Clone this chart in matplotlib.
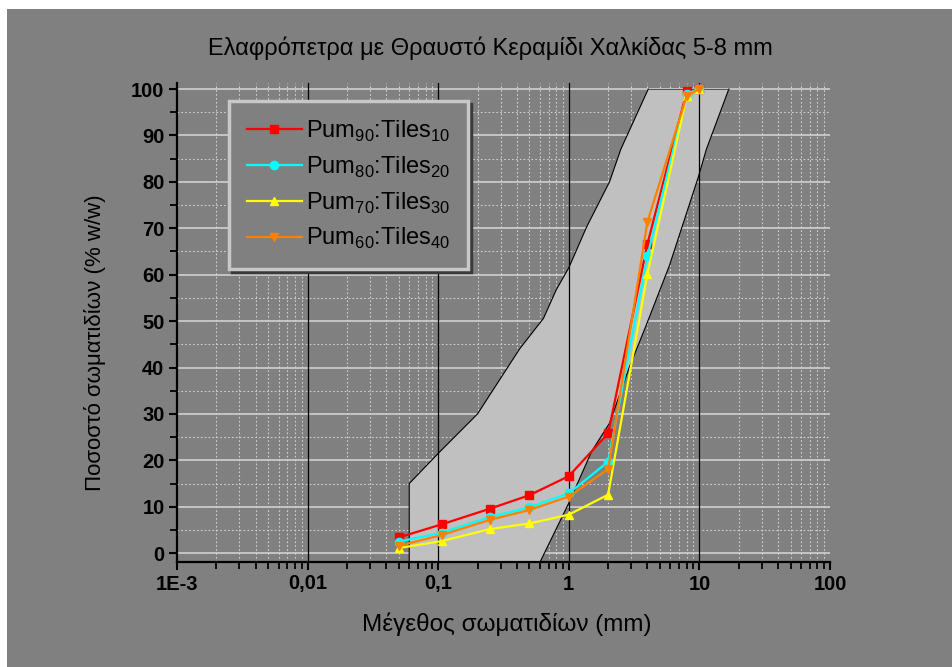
import numpy as np
import matplotlib
matplotlib.use("Agg")
import matplotlib.pyplot as plt
from matplotlib.patches import Rectangle
from matplotlib.ticker import LogLocator, FixedLocator, FixedFormatter, MultipleLocator

plt.rcParams['font.family'] = ['Liberation Sans', 'DejaVu Sans']
plt.rcParams['mathtext.fontset'] = 'custom'
plt.rcParams['mathtext.rm'] = 'Liberation Sans'

# sieve sizes (mm)
sizes = [0.05, 0.106, 0.25, 0.5, 1, 2, 4, 8, 10]

# passing percentages
pum90 = [3.4, 6.2, 9.6, 12.5, 16.6, 25.8, 66.6, 99.5, 100]
pum80 = [2.5, 4.4, 7.8, 9.9, 12.9, 19.7, 64.0, 99.0, 100]
pum70 = [1.1, 2.6, 5.2, 6.4, 8.3, 12.6, 60.2, 98.5, 100]
pum60 = [1.6, 3.9, 7.2, 9.3, 12.2, 18.1, 71.4, 98.5, 100]

# grading envelope (left/upper and right/lower boundaries)
env_left_x = [0.06, 0.06, 0.1, 0.2, 0.42, 0.64, 0.8, 1.0, 1.37, 2.05, 2.5, 4.06]
env_left_y = [-2, 15, 21.5, 30, 44, 50.6, 56.7, 61.5, 70.3, 80, 87, 100]
env_right_x = [16.8, 11.3, 9.8, 5.9, 3.9, 2.9, 2.05, 1.5, 1.0, 0.6]
env_right_y = [100, 87, 81, 62, 49, 40, 28, 22, 10.8, -2]

labels = [r'Pum$_{\mathregular{90}}$:Tiles$_{\mathregular{10}}$',
          r'Pum$_{\mathregular{80}}$:Tiles$_{\mathregular{20}}$',
          r'Pum$_{\mathregular{70}}$:Tiles$_{\mathregular{30}}$',
          r'Pum$_{\mathregular{60}}$:Tiles$_{\mathregular{40}}$']

xticks = [1e-3, 1e-2, 1e-1, 1, 10, 100]
xticklabels = ['1E-3', '0,01', '0,1', '1', '10', '100']

bg = '#808080'
fig = plt.figure(figsize=(9.52, 6.67), dpi=100)
fig.patch.set_facecolor('white')
fig.add_artist(Rectangle((7 / 952, 0), 1, 1 - 9 / 667, transform=fig.transFigure,
                         facecolor=bg, edgecolor='none', zorder=-10))

ax = fig.add_axes([177 / 952, 105 / 667, 653 / 952, 479 / 667])
ax.set_facecolor(bg)
ax.set_xscale('log')
ax.set_xlim(1e-3, 100)
ax.set_ylim(-1.9, 101.3)

# grid
ax.yaxis.set_major_locator(MultipleLocator(10))
ax.yaxis.set_minor_locator(MultipleLocator(5))
ax.xaxis.set_major_locator(FixedLocator(xticks))
ax.xaxis.set_major_formatter(FixedFormatter(xticklabels))
ax.xaxis.set_minor_locator(LogLocator(base=10, subs=np.arange(2, 10), numticks=20))
ax.xaxis.set_minor_formatter(plt.NullFormatter())
ax.grid(axis='y', which='major', color='#d0d0d0', lw=1.2, zorder=0)
ax.grid(axis='y', which='minor', color='#d0d0d0', lw=0.8, ls=(0, (1.5, 2)), zorder=0)
ax.grid(axis='x', which='minor', color='#d0d0d0', lw=0.8, ls=(0, (1.5, 2)), zorder=0)
ax.set_axisbelow(True)

# envelope
ex = env_left_x + env_right_x
ey = env_left_y + env_right_y
ax.fill(ex, ey, facecolor='#c0c0c0', edgecolor='none', zorder=1)
ax.plot(env_left_x, env_left_y, color='black', lw=0.8, zorder=1.5)
ax.plot(env_right_x, env_right_y, color='black', lw=0.8, zorder=1.5)
ax.plot([env_left_x[-1], env_right_x[0]], [100, 100], color='#404040', lw=0.6, zorder=1.5)
for xv in xticks[1:-1]:
    ax.axvline(xv, color='black', lw=0.9, zorder=2)

series = [(pum90, '#ff0000', 's'), (pum80, '#00ffff', 'o'),
          (pum70, '#ffff00', '^'), (pum60, '#ff8000', 'v')]
for (vals, col, mk), lab in zip(series, labels):
    ax.plot(sizes, vals, color=col, marker=mk, ms=6, lw=1.6, label=lab, zorder=3)

for s in ['top', 'right']:
    ax.spines[s].set_visible(False)
for s in ['left', 'bottom']:
    ax.spines[s].set_linewidth(1.6)
ax.tick_params(which='major', direction='out', length=6, width=1.5, labelsize=14.5, pad=3)
ax.tick_params(which='minor', direction='out', length=5, width=1.3)
for t in ax.get_xticklabels() + ax.get_yticklabels():
    t.set_fontweight('bold')

ax.set_xlabel('Μέγεθος σωματιδίων (mm)', fontsize=17.5)
ax.set_ylabel('Ποσοστό σωματιδίων (% w/w)', fontsize=16)
ax.xaxis.set_label_coords(0.505, -0.105)
ax.yaxis.set_label_coords(-0.109, 0.458)
fig.text(490 / 952, 1 - 48 / 667, 'Ελαφρόπετρα με Θραυστό Κεραμίδι Χαλκίδας 5-8 mm',
         fontsize=17, ha='center', va='center')

leg = ax.legend(loc='upper left', bbox_to_anchor=(52 / 653, 461 / 479), fontsize=17,
                frameon=True, fancybox=False, framealpha=1, facecolor=bg,
                edgecolor='#c8c8c8', handlelength=2.33, labelspacing=0.45,
                borderpad=0.75, borderaxespad=0, handletextpad=0.2,
                shadow={'color': '#3a3a3a', 'alpha': 1})
leg.get_frame().set_linewidth(2.5)

fig.savefig('out.png', dpi=100, facecolor=fig.get_facecolor())
